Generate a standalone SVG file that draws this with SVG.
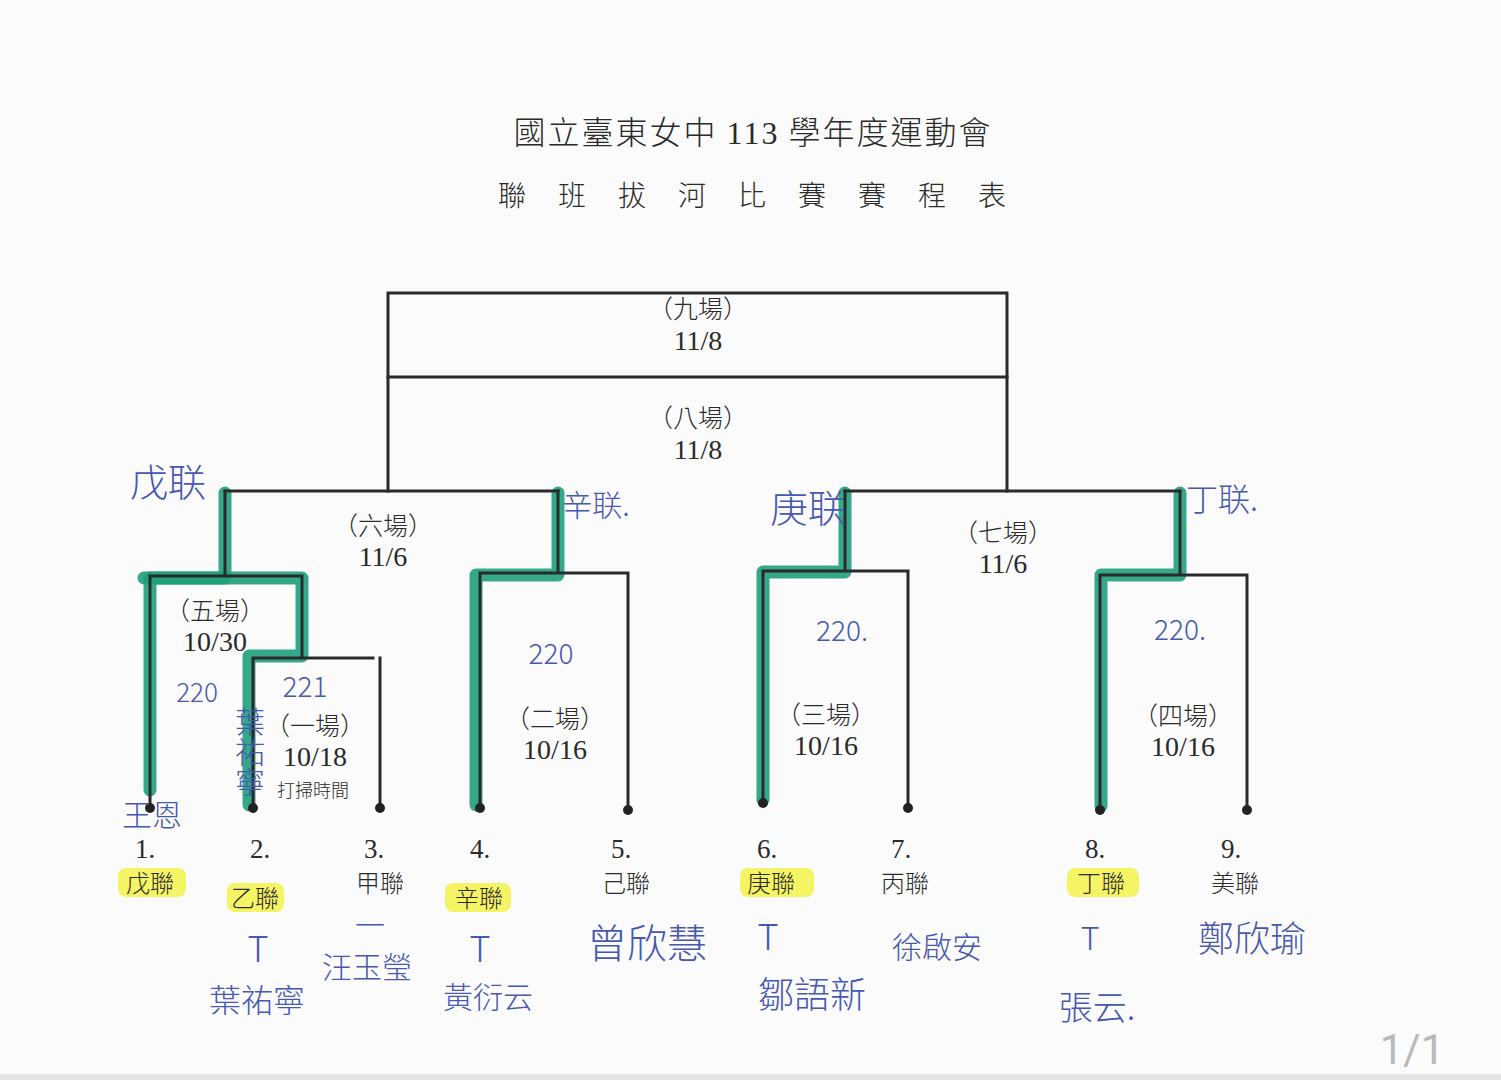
<svg xmlns="http://www.w3.org/2000/svg" width="1501" height="1080" viewBox="0 0 1501 1080">
<style>
.ln{fill:none;stroke:#2a2a2a;stroke-width:3;stroke-linecap:square}
.gr{fill:none;stroke:#1f9e7c;stroke-opacity:0.9;stroke-width:13;stroke-linejoin:round;stroke-linecap:round}
.dot{fill:#222}
.t{font-family:"Liberation Serif","Noto Sans CJK TC",serif;fill:#2a2a2a;text-anchor:middle}
.c{font-family:"Noto Sans CJK TC",serif;font-weight:300;fill:#2a2a2a;text-anchor:middle}
.hd{font-family:"Noto Sans CJK TC",sans-serif;font-weight:300;fill:#4658b0;text-anchor:middle}
.hl{fill:#f3f24a;opacity:0.85}
</style>
<rect width="1501" height="1080" fill="#fbfbfb"/>
<rect x="0" y="1074" width="1501" height="6" fill="#e6e6e6"/>
<g id="title">
<text class="c" x="753" y="144" font-size="32" letter-spacing="2">國立臺東女中 <tspan font-family="Liberation Serif">113</tspan> 學年度運動會</text>
<text class="c" x="768" y="206" font-size="28" letter-spacing="32">聯班拔河比賽賽程表</text>
</g>
<g id="highlights">
<rect class="hl" x="118" y="868" width="68" height="29" rx="8"/>
<rect class="hl" x="227" y="883" width="57" height="29" rx="8"/>
<rect class="hl" x="445" y="883" width="66" height="29" rx="8"/>
<rect class="hl" x="740" y="868" width="74" height="29" rx="8"/>
<rect class="hl" x="1067" y="868" width="72" height="29" rx="8"/>
</g>
<g id="connectors">
<g id="marker-paths">
<path class="gr" d="M150,790 V578 H225 V493"/>
<path class="gr" d="M144,578 H302 V656 H249 V805"/>
<path class="gr" d="M476,805 V575 H558 V493"/>
<path class="gr" d="M763,800 V572 H845 V493"/>
<path class="gr" d="M1101,806 V575 H1180 V493"/>
</g>
<rect class="ln" x="388" y="293" width="619" height="84"/>
<path class="ln" d="M388,377 V491 M1007,377 V491"/>
<path class="ln" d="M225,491 H558 M845,491 H1180"/>
<path class="ln" d="M225,491 V576 M150,576 H302 M150,576 V808 M302,576 V658 M253,658 H373 M253,658 V808 M380,658 V808"/>
<path class="ln" d="M558,491 V573 M480,573 H628 M480,573 V808 M628,573 V810"/>
<path class="ln" d="M845,491 V571 M763,571 H908 M763,571 V803 M908,571 V808"/>
<path class="ln" d="M1180,491 V575 M1100,575 H1247 M1100,575 V810 M1247,575 V810"/>
</g>
<g id="match9"><text class="c" x="698" y="318" font-size="25">（九場）</text><text class="t" x="698" y="350" font-size="28">11/8</text></g>
<g id="match8"><text class="c" x="698" y="427" font-size="25">（八場）</text><text class="t" x="698" y="459" font-size="28">11/8</text></g>
<g id="match6"><text class="c" x="383" y="535" font-size="25">（六場）</text><text class="t" x="383" y="566" font-size="28">11/6</text></g>
<g id="match7"><text class="c" x="1003" y="542" font-size="25">（七場）</text><text class="t" x="1003" y="573" font-size="28">11/6</text></g>
<g id="match5"><text class="c" x="215" y="620" font-size="25">（五場）</text><text class="t" x="215" y="651" font-size="28">10/30</text></g>
<g id="match1"><text class="c" x="315" y="735" font-size="25">（一場）</text><text class="t" x="315" y="766" font-size="28">10/18</text><text class="c" x="313" y="797" font-size="18">打掃時間</text></g>
<g id="match2"><text class="c" x="555" y="728" font-size="25">（二場）</text><text class="t" x="555" y="759" font-size="28">10/16</text></g>
<g id="match3"><text class="c" x="826" y="724" font-size="25">（三場）</text><text class="t" x="826" y="755" font-size="28">10/16</text></g>
<g id="match4"><text class="c" x="1183" y="725" font-size="25">（四場）</text><text class="t" x="1183" y="756" font-size="28">10/16</text></g>
<g id="team1"><circle class="dot" cx="150" cy="808" r="5"/><text class="t" x="145" y="858" font-size="27">1.</text><text class="c" x="150" y="892" font-size="24">戊聯</text></g>
<g id="team2"><circle class="dot" cx="253" cy="808" r="5"/><text class="t" x="260" y="858" font-size="27">2.</text><text class="c" x="255" y="907" font-size="24">乙聯</text></g>
<g id="team3"><circle class="dot" cx="380" cy="808" r="5"/><text class="t" x="374" y="858" font-size="27">3.</text><text class="c" x="380" y="892" font-size="24">甲聯</text></g>
<g id="team4"><circle class="dot" cx="480" cy="808" r="5"/><text class="t" x="480" y="858" font-size="27">4.</text><text class="c" x="479" y="907" font-size="24">辛聯</text></g>
<g id="team5"><circle class="dot" cx="628" cy="810" r="5"/><text class="t" x="621" y="858" font-size="27">5.</text><text class="c" x="626" y="892" font-size="24">己聯</text></g>
<g id="team6"><circle class="dot" cx="763" cy="803" r="5"/><text class="t" x="767" y="858" font-size="27">6.</text><text class="c" x="771" y="892" font-size="24">庚聯</text></g>
<g id="team7"><circle class="dot" cx="908" cy="808" r="5"/><text class="t" x="901" y="858" font-size="27">7.</text><text class="c" x="905" y="892" font-size="24">丙聯</text></g>
<g id="team8"><circle class="dot" cx="1100" cy="810" r="5"/><text class="t" x="1095" y="858" font-size="27">8.</text><text class="c" x="1101" y="892" font-size="24">丁聯</text></g>
<g id="team9"><circle class="dot" cx="1247" cy="810" r="5"/><text class="t" x="1231" y="858" font-size="27">9.</text><text class="c" x="1235" y="892" font-size="24">美聯</text></g>
<g id="handwriting">
<text class="hd" x="168" y="496" font-size="38">戊联</text>
<text class="hd" x="596" y="516" font-size="30">辛联.</text>
<text class="hd" x="808" y="522" font-size="38">庚联</text>
<text class="hd" x="1222" y="511" font-size="32">丁联.</text>
<text class="hd" x="197" y="702" font-size="26">220</text>
<text class="hd" x="305" y="697" font-size="28">221</text>
<text class="hd" x="551" y="664" font-size="28">220</text>
<text class="hd" x="842" y="641" font-size="28">220.</text>
<text class="hd" x="1180" y="640" font-size="28">220.</text>
<text class="hd" x="152" y="826" font-size="30">王恩</text>
<text class="hd" x="250" y="752" font-size="30" writing-mode="tb">葉祐寧</text>
<text class="hd" x="258" y="962" font-size="36">T</text>
<text class="hd" x="370" y="936" font-size="30">一</text>
<text class="hd" x="480" y="962" font-size="36">T</text>
<text class="hd" x="768" y="950" font-size="36">T</text>
<text class="hd" x="1090" y="950" font-size="32">T</text>
<text class="hd" x="257" y="1012" font-size="32">葉祐寧</text>
<text class="hd" x="367" y="978" font-size="30">汪玉瑩</text>
<text class="hd" x="488" y="1008" font-size="30">黃衍云</text>
<text class="hd" x="647" y="958" font-size="40">曾欣慧</text>
<text class="hd" x="812" y="1008" font-size="36">鄒語新</text>
<text class="hd" x="937" y="958" font-size="30">徐啟安</text>
<text class="hd" x="1097" y="1020" font-size="34">張云.</text>
<text class="hd" x="1252" y="952" font-size="36">鄭欣瑜</text>
</g>
<text x="1412" y="1064" font-family="Roboto,'Liberation Sans',sans-serif" font-size="42" fill="#b8b8b8" text-anchor="middle">1/1</text>
</svg>
